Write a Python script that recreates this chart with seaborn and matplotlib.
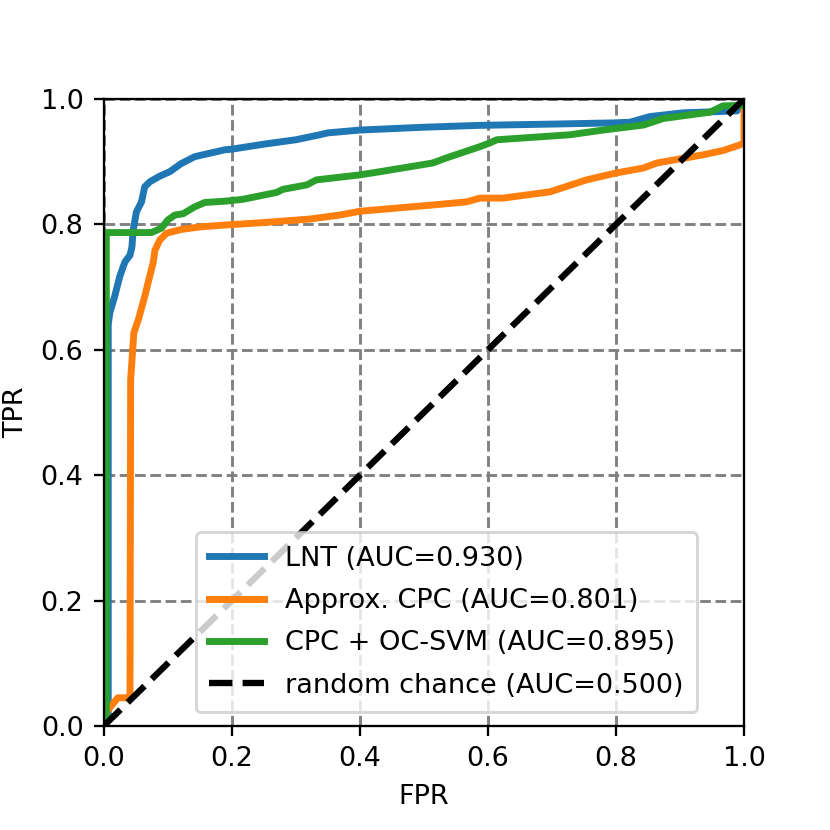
import numpy as np
import pandas as pd
import matplotlib
matplotlib.use('Agg')
import matplotlib.pyplot as plt
import seaborn as sns

# ROC curve points
lnt_fpr = [0.0, 0.007, 0.007, 0.0094, 0.017, 0.025, 0.033, 0.041, 0.044, 0.046, 0.051, 0.059,
           0.064, 0.072, 0.0875, 0.103, 0.121, 0.142, 0.189, 0.2, 0.25, 0.3, 0.3375, 0.35, 0.4,
           0.5, 0.5875, 0.7, 0.8, 0.822, 0.853, 0.905, 0.989, 1.0]
lnt_tpr = [0.0, 0.02, 0.64, 0.659, 0.685, 0.717, 0.74, 0.751, 0.764, 0.791, 0.82, 0.836,
           0.86, 0.868, 0.877, 0.884, 0.897, 0.908, 0.919, 0.92, 0.928, 0.935, 0.943, 0.946, 0.9505,
           0.955, 0.958, 0.96, 0.962, 0.963, 0.972, 0.978, 0.981, 1.0]

cpc_fpr = [0.0, 0.003, 0.01, 0.022, 0.038, 0.041, 0.042, 0.047, 0.054, 0.064, 0.069, 0.077,
           0.08, 0.0875, 0.098, 0.121, 0.15, 0.189, 0.25, 0.322, 0.369, 0.4, 0.514, 0.567,
           0.5875, 0.624, 0.697, 0.754, 0.8, 0.843, 0.864, 0.936, 0.968, 0.994, 1.0, 1.0]
cpc_tpr = [0.0, 0.02, 0.03, 0.045, 0.045, 0.05, 0.552, 0.627, 0.648, 0.685, 0.706, 0.738,
           0.759, 0.775, 0.786, 0.792, 0.796, 0.799, 0.803, 0.8086, 0.815, 0.821, 0.831, 0.836,
           0.842, 0.842, 0.852, 0.871, 0.882, 0.89, 0.898, 0.911, 0.918, 0.927, 0.93, 1.0]

svm_fpr = [0.0, 0.004, 0.004, 0.0745, 0.09, 0.1, 0.111, 0.124, 0.142, 0.158, 0.189, 0.217,
           0.27, 0.28, 0.317, 0.332, 0.4, 0.431, 0.514, 0.535, 0.5875, 0.603, 0.614, 0.728,
           0.78, 0.843, 0.874, 0.947, 0.967, 0.998, 1.0]
svm_tpr = [0.0, 0.0, 0.787, 0.787, 0.794, 0.807, 0.815, 0.817, 0.828, 0.835, 0.837, 0.840,
           0.851, 0.856, 0.863, 0.871, 0.879, 0.884, 0.898, 0.906, 0.924, 0.93, 0.935, 0.943,
           0.9505, 0.9585, 0.969, 0.979, 0.989, 0.99, 1.0]

chance = [0.0, 1.0]

labels = ['LNT (AUC=0.930)', 'Approx. CPC (AUC=0.801)',
          'CPC + OC-SVM (AUC=0.895)', 'random chance (AUC=0.500)']
ticks = [0.0, 0.2, 0.4, 0.6, 0.8, 1.0]

plt.rcParams['font.size'] = 9.4

fig, ax = plt.subplots(figsize=(4, 4), dpi=207.5)
fig.subplots_adjust(left=0.125, right=0.8964, top=0.8807, bottom=0.1253)

colors = ['#1f77b4', '#ff7f0e', '#2ca02c']
curves = [(lnt_fpr, lnt_tpr), (cpc_fpr, cpc_tpr), (svm_fpr, svm_tpr)]
for (fpr, tpr), col, lab in zip(curves, colors, labels[:3]):
    sns.lineplot(x=fpr, y=tpr, ax=ax, color=col, linewidth=2.4, label=lab,
                 sort=False, estimator=None)

sns.lineplot(x=chance, y=chance, ax=ax, color='black', linewidth=2.2,
             linestyle='--', label=labels[3], sort=False, estimator=None)

ax.set_xlim(0, 1)
ax.set_ylim(0, 1)
ax.set_xticks(ticks)
ax.set_yticks(ticks)
ax.set_xlabel('FPR')
ax.set_ylabel('TPR')
ax.grid(True, linestyle='--', color='gray', linewidth=1)
ax.legend(loc='lower right', bbox_to_anchor=(0.927, 0.022), borderaxespad=0,
          labelspacing=0.6, borderpad=0.5)

plt.savefig('out.png', dpi=207.5)
plt.close()
